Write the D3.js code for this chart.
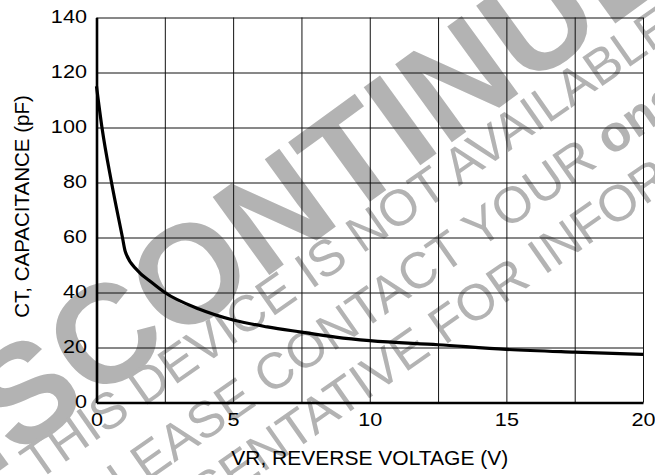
<!DOCTYPE html>
<html><head><meta charset="utf-8">
<script src="https://cdn.jsdelivr.net/npm/d3@7"></script>
<style>
body{margin:0;background:#fff}
svg{display:block}
text{font-family:"Liberation Sans",Arial,Helvetica,sans-serif}
</style>
</head><body>
<svg id="chart" width="655" height="475"></svg>
<script>
// ---- data ----
const voltage     = [0, 0.2, 0.55, 0.95, 1.05, 1.5, 2, 2.5, 3.75, 5, 6.25, 7.5, 8.75, 10, 12.5, 15, 17.5, 20];
const capacitance = [115, 100, 80, 60, 55, 48, 43.8, 40, 34, 30, 27.5, 25.6, 23.8, 22.5, 21, 19.3, 18.3, 17.5];
const xTickValues = [0, 5, 10, 15, 20];
const xGridValues = [0, 2.5, 5, 7.5, 10, 12.5, 15, 17.5, 20];
const yTickValues = [0, 20, 40, 60, 80, 100, 120, 140];
const xTitle = "VR, REVERSE VOLTAGE (V)";
const yTitle = "CT, CAPACITANCE (pF)";
const stampWord = "DISCONTINUED";
const stampLines = ["THIS DEVICE IS NOT AVAILABLE", "PLEASE CONTACT YOUR ", "REPRESENTATIVE FOR INFORMATION"];
const stampBrand = "onsemi";

// ---- layout ----
const W = 655, H = 475;
const L = 96.5, R = 643, T = 17.5, B = 402.5;
const svg = d3.select("#chart");
svg.append("rect").attr("width", W).attr("height", H).attr("fill", "#fff");

const x = d3.scaleLinear().domain([0, 20]).range([L, R]);
const y = d3.scaleLinear().domain([0, 140]).range([B, T]);

// ---- watermark (behind everything) ----
const wm = svg.append("g").attr("fill", "#b3b3b3");
wm.append("text")
  .attr("transform", "translate(-97,541) rotate(-36)")
  .attr("font-weight", "bold")
  .attr("font-size", 140)
  .text(stampWord);

const linePos = [[-246, 416], [-219, 479], [-300, 538]];
const thin = wm.append("g").attr("transform", "rotate(-35)").attr("font-size", 51);
stampLines.forEach((s, i) => {
  const t = thin.append("text").attr("x", linePos[i][0]).attr("y", linePos[i][1]);
  t.append("tspan").text(s);
  if (i === 1) t.append("tspan").attr("font-weight", "bold").text(stampBrand);
});

// ---- grid ----
const gx = svg.append("g").attr("transform", `translate(0,${B})`)
  .call(d3.axisBottom(x).tickValues(xGridValues).tickSize(-(B - T)).tickFormat(""));
gx.select(".domain").remove();
gx.selectAll("line").attr("stroke", "#111").attr("stroke-width", 1);

const gy = svg.append("g").attr("transform", `translate(${L},0)`)
  .call(d3.axisLeft(y).tickValues(yTickValues).tickSize(-(R - L)).tickFormat(""));
gy.select(".domain").remove();
gy.selectAll("line").attr("stroke", "#111").attr("stroke-width", 1);

// ---- axes with labels ----
const ax = svg.append("g").attr("transform", `translate(0,${B})`)
  .call(d3.axisBottom(x).tickValues(xTickValues).tickSize(0).tickSizeOuter(0).tickPadding(11));
ax.select(".domain").attr("stroke", "#000").attr("stroke-width", 2.6);
ax.selectAll("text").attr("font-size", 18).attr("fill", "#000")
  .attr("font-family", "Liberation Sans, Arial, sans-serif")
  .attr("transform", "scale(1.2,1)");

const ay = svg.append("g").attr("transform", `translate(${L},0)`)
  .call(d3.axisLeft(y).tickValues(yTickValues).tickSize(0).tickSizeOuter(0).tickPadding(8));
ay.select(".domain").attr("stroke", "#000").attr("stroke-width", 2.6);
ay.selectAll("text").attr("font-size", 18).attr("fill", "#000")
  .attr("font-family", "Liberation Sans, Arial, sans-serif")
  .attr("dy", "0.25em")
  .attr("transform", "scale(1.2,1)");

// ---- curve ----
const pts = voltage.map((v, i) => [v, capacitance[i]]);
svg.append("path")
  .datum(pts)
  .attr("fill", "none")
  .attr("stroke", "#000")
  .attr("stroke-width", 3.2)
  .attr("stroke-linejoin", "round")
  .attr("d", d3.line().x(d => x(d[0])).y(d => y(d[1])).curve(d3.curveMonotoneX));

// ---- titles ----
svg.append("text").attr("x", (L + R) / 2).attr("y", 465)
  .attr("text-anchor", "middle").attr("font-size", 21).attr("fill", "#000").text(xTitle);
svg.append("text").attr("transform", `translate(29,${(93 + 320) / 2}) rotate(-90)`)
  .attr("text-anchor", "middle").attr("font-size", 20.5).attr("fill", "#000").text(yTitle);
</script>
</body></html>
